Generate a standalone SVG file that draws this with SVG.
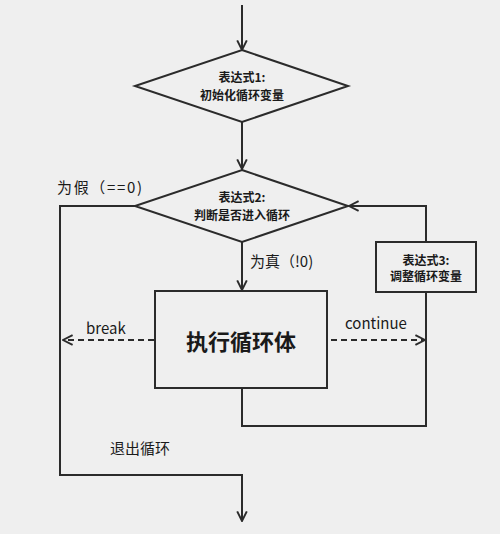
<svg xmlns="http://www.w3.org/2000/svg" width="500" height="534" viewBox="0 0 500 534">
<defs>
<style>
.shape{fill:none;stroke:#2b2b2b;stroke-width:2}
.line{fill:none;stroke:#2b2b2b;stroke-width:2}
.dash{fill:none;stroke:#2b2b2b;stroke-width:2;stroke-dasharray:6 4}
.t{font-family:"Noto Sans CJK SC","Noto Sans",sans-serif;fill:#1a1a1a}
.b{font-weight:bold;font-size:12px}
.lbl{font-size:15px}
</style>
<marker id="ah" viewBox="0 0 10 10" refX="9" refY="5" markerWidth="12" markerHeight="12" markerUnits="userSpaceOnUse" orient="auto">
<path d="M1,1 L9,5 L1,9" fill="none" stroke="#2b2b2b" stroke-width="1.6"/>
</marker>
</defs>
<rect width="500" height="534" fill="#efefef"/>
<g id="connectors">
<path class="line" d="M242,5 V50" marker-end="url(#ah)"/>
<path class="line" d="M242,122 V169" marker-end="url(#ah)"/>
<path class="line" d="M242,242 V290" marker-end="url(#ah)"/>
<path class="line" d="M135,206 H60 V475 H242 V521" marker-end="url(#ah)"/>
<path class="line" d="M242,388 V426 H426 V292"/>
<path class="line" d="M426,242 V206 H349" marker-end="url(#ah)"/>
<path class="dash" d="M154,340 H63" marker-end="url(#ah)"/>
<path class="dash" d="M331,340 H425" marker-end="url(#ah)"/>
<text class="t lbl" x="57" y="193" textLength="85" lengthAdjust="spacing">为假（==0)</text>
<text class="t lbl" x="250" y="267">为真（!0)</text>
<text class="t lbl" x="86" y="334">break</text>
<text class="t lbl" x="345" y="329">continue</text>
<text class="t lbl" x="110" y="454">退出循环</text>
</g>
<g id="node-expr1">
<polygon class="shape" points="242,50 348,86 242,122 135,86"/>
<text class="t b" x="242" y="82" text-anchor="middle">表达式1:</text>
<text class="t b" x="242" y="100" text-anchor="middle">初始化循环变量</text>
</g>
<g id="node-expr2">
<polygon class="shape" points="242,170 348,206 242,242 135,206"/>
<text class="t b" x="242" y="202" text-anchor="middle">表达式2:</text>
<text class="t b" x="242" y="220" text-anchor="middle">判断是否进入循环</text>
</g>
<g id="node-body">
<rect class="shape" x="155" y="291" width="172" height="97"/>
<text class="t" x="241" y="350" text-anchor="middle" font-size="22" font-weight="bold">执行循环体</text>
</g>
<g id="node-expr3">
<rect class="shape" x="376" y="242" width="100" height="50"/>
<text class="t b" x="426" y="265" text-anchor="middle">表达式3:</text>
<text class="t b" x="426" y="281" text-anchor="middle">调整循环变量</text>
</g>
</svg>
